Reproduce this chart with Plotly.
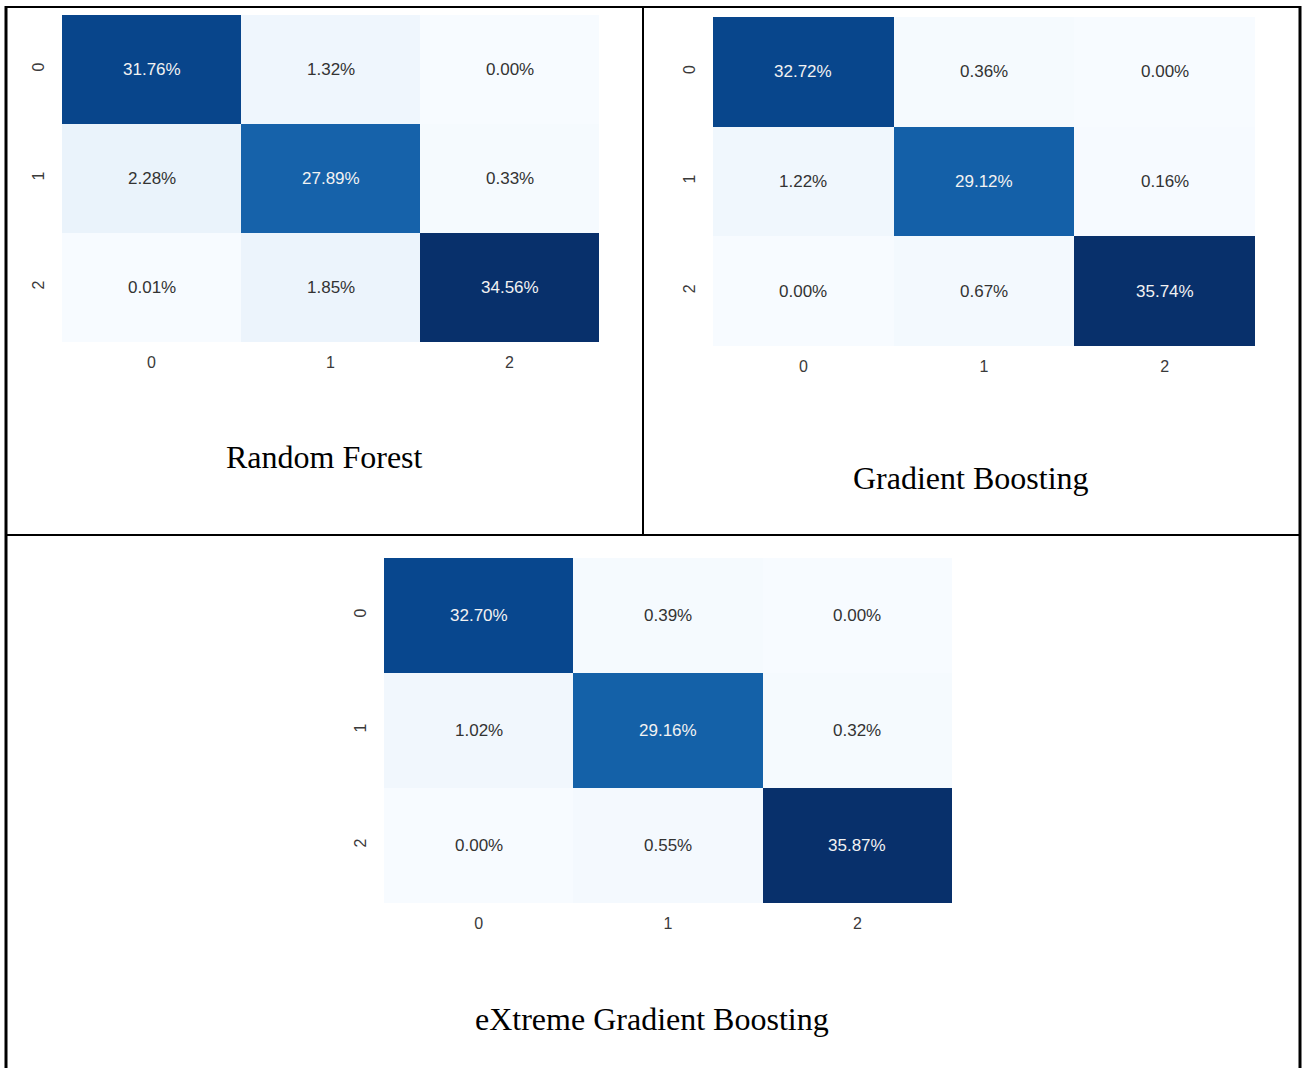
import plotly.graph_objects as go
import plotly.express as px

W, H = 1304, 1068

labels = ["0", "1", "2"]

rf_values = [[31.76, 1.32, 0.00],
             [2.28, 27.89, 0.33],
             [0.01, 1.85, 34.56]]
gb_values = [[32.72, 0.36, 0.00],
             [1.22, 29.12, 0.16],
             [0.00, 0.67, 35.74]]
xgb_values = [[32.70, 0.39, 0.00],
              [1.02, 29.16, 0.32],
              [0.00, 0.55, 35.87]]

titles = ["Random Forest", "Gradient Boosting", "eXtreme Gradient Boosting"]

blues = px.colors.sequential.Blues
cscale = [[i / (len(blues) - 1), c] for i, c in enumerate(blues)]

# pixel boxes (left, top, right, bottom)
boxes = [(62, 15, 599, 342), (713, 17, 1255, 346), (384, 558, 952, 903)]
title_pos = [(324, 457), (971, 478), (652, 1019)]
data = [rf_values, gb_values, xgb_values]

fig = go.Figure()
annotations = []
for k, (vals, box) in enumerate(zip(data, boxes)):
    l, t, r, b = box
    sfx = "" if k == 0 else str(k + 1)
    vmin = min(min(row) for row in vals)
    vmax = max(max(row) for row in vals)
    fig.add_trace(go.Heatmap(
        z=vals, x=labels, y=labels,
        colorscale=cscale, zmin=vmin, zmax=vmax,
        showscale=False, hoverinfo="skip",
        xaxis="x" + sfx, yaxis="y" + sfx,
    ))
    ax = dict(domain=[l / W, r / W], showgrid=False, zeroline=False, showline=False,
              ticks="", tickfont=dict(family="Liberation Sans, Arial", size=16, color="#3a3a3a"),
              type="category", anchor="y" + sfx, ticklabelstandoff=9)
    ay = dict(domain=[1 - b / H, 1 - t / H], showgrid=False, zeroline=False, showline=False,
              ticks="", tickfont=dict(family="Liberation Sans, Arial", size=16, color="#3a3a3a"),
              type="category", autorange="reversed", tickangle=-90, anchor="x" + sfx,
              ticklabelstandoff=14)
    fig.update_layout(**{"xaxis" + sfx: ax, "yaxis" + sfx: ay})
    for i, yl in enumerate(labels):
        for j, xl in enumerate(labels):
            v = vals[i][j]
            frac = (v - vmin) / (vmax - vmin) if vmax > vmin else 0
            annotations.append(dict(
                x=xl, y=yl, xref="x" + sfx, yref="y" + sfx,
                text=f"{v:.2f}%", showarrow=False,
                font=dict(family="Liberation Sans, Arial", size=17,
                          color="#f2f2f2" if frac > 0.5 else "#333333"),
            ))
    tx, ty = title_pos[k]
    annotations.append(dict(
        x=tx / W, y=1 - ty / H, xref="paper", yref="paper",
        text=titles[k], showarrow=False, xanchor="center", yanchor="middle",
        font=dict(family="Liberation Serif, Times New Roman", size=32, color="#000000"),
    ))

line = dict(color="black", width=2)
shapes = [
    dict(type="line", xref="paper", yref="paper", x0=6 / W, x1=1300 / W, y0=1 - 7 / H, y1=1 - 7 / H, line=line),
    dict(type="line", xref="paper", yref="paper", x0=6 / W, x1=6 / W, y0=1 - 6 / H, y1=0, line=dict(color="black", width=3)),
    dict(type="line", xref="paper", yref="paper", x0=1300 / W, x1=1300 / W, y0=1 - 6 / H, y1=0, line=dict(color="black", width=3)),
    dict(type="line", xref="paper", yref="paper", x0=643 / W, x1=643 / W, y0=1 - 7 / H, y1=1 - 535 / H, line=line),
    dict(type="line", xref="paper", yref="paper", x0=6 / W, x1=1300 / W, y0=1 - 535 / H, y1=1 - 535 / H, line=line),
]

fig.update_layout(
    width=W, height=H, margin=dict(l=0, r=0, t=0, b=0),
    paper_bgcolor="white", plot_bgcolor="white",
    annotations=annotations, shapes=shapes, showlegend=False,
)

fig.write_html("out.html")
